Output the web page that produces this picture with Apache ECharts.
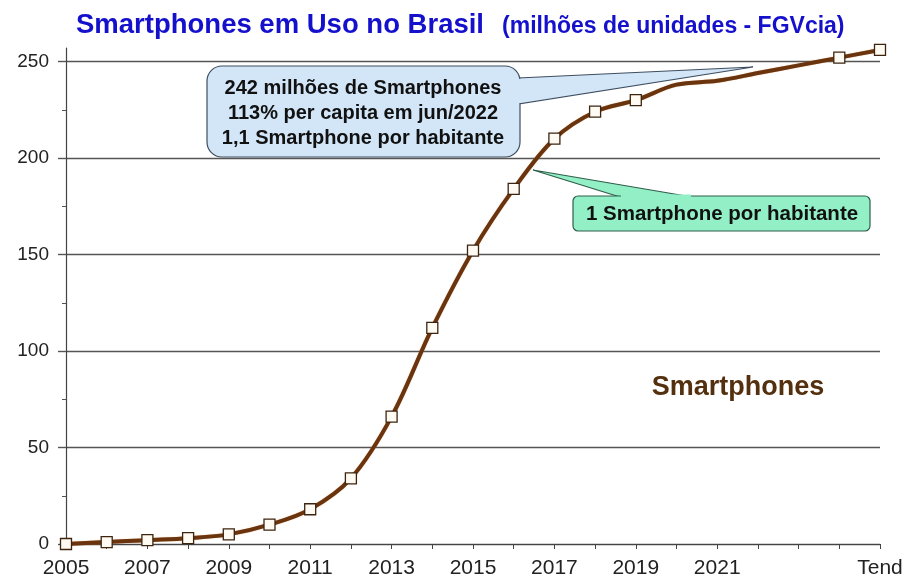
<!DOCTYPE html>
<html><head><meta charset="utf-8">
<script src="https://cdn.jsdelivr.net/npm/echarts@6/dist/echarts.min.js"></script>
<style>html,body{margin:0;padding:0;background:#fff}#c{width:906px;height:583px}</style>
</head><body><div id="c"></div>
<script>
const categories = ['2005','2006','2007','2008','2009','2010','2011','2012','2013','2014','2015','2016','2017','2018','2019','2020','2021','2022','2023','2024','Tend'];
const smartphones = [0, 1, 2, 3, 5, 10, 18, 34, 66, 112, 152, 184, 210, 224, 230, 238, 240, 244, 248, 252, 256];
const yearsWithoutMarker = ['2020','2021','2022','2023'];
const shownXLabels = ['2005','2007','2009','2011','2013','2015','2017','2019','2021','Tend'];
const yTicks = [0, 50, 100, 150, 200, 250];
const yMinorTicks = [25, 75, 125, 175, 225];
const titleMain = 'Smartphones em Uso no Brasil';
const titleSub = '(milhões de unidades - FGVcia)';
const noteBlue = ['242 milhões de Smartphones', '113% per capita em jun/2022', '1,1 Smartphone por habitante'];
const noteGreen = '1 Smartphone por habitante';
const seriesName = 'Smartphones';

const FONT = '"Liberation Sans", Arial, sans-serif';
const chart = echarts.init(document.getElementById('c'), null, {renderer: 'canvas'});
const seriesData = smartphones.map((v, i) => yearsWithoutMarker.includes(categories[i]) ? {value: v, symbol: 'none'} : v);

chart.setOption({
  animation: false,
  backgroundColor: '#fff',
  title: {
    left: 71, top: 6,
    text: '{a|' + titleMain + '}{b|' + titleSub + '}',
    textStyle: {
      rich: {
        a: {fontFamily: FONT, fontWeight: 'bold', fontSize: 27.5, color: '#1410cc'},
        b: {fontFamily: FONT, fontWeight: 'bold', fontSize: 23, color: '#1410cc', padding: [3, 0, 0, 18]}
      }
    }
  },
  grid: {left: 66, right: 26, top: 48, bottom: 39, containLabel: false},
  xAxis: {
    type: 'category', data: categories, boundaryGap: false,
    axisLine: {lineStyle: {color: '#444', width: 1.2}},
    axisTick: {show: true, interval: 0, length: 5, lineStyle: {color: '#444'}},
    axisLabel: {
      interval: (i, v) => shownXLabels.includes(v),
      fontFamily: FONT, fontSize: 21, color: '#222', margin: 14
    },
    splitLine: {show: false}
  },
  yAxis: [{
    type: 'value', min: 0, max: 257,
    axisLine: {show: true, lineStyle: {color: '#444', width: 1.2}},
    axisTick: {show: true, length: 8, customValues: yTicks, lineStyle: {color: '#555', width: 1.4}},
    axisLabel: {customValues: yTicks, fontFamily: FONT, fontSize: 19, color: '#222', margin: 17},
    splitLine: {show: true, lineStyle: {color: '#555', width: 1.4}}
  }, {
    type: 'value', min: 0, max: 257, position: 'left',
    axisLine: {show: false},
    axisTick: {show: true, length: 4, customValues: yMinorTicks, lineStyle: {color: '#555'}},
    axisLabel: {show: false},
    splitLine: {show: false}
  }],
  series: [{
    type: 'line', name: seriesName, data: seriesData, smooth: 0.35, yAxisIndex: 0,
    lineStyle: {color: '#6a340e', width: 4, shadowColor: 'rgba(200,110,30,0.6)', shadowBlur: 1},
    symbol: 'rect', symbolSize: 11,
    itemStyle: {color: '#fffaf2', borderColor: '#3d2410', borderWidth: 1.3},
    z: 5
  }],
  graphic: [
    {type: 'polygon', z: 10, shape: {points: [[518, 78], [753, 67], [518, 104]]},
      style: {fill: '#d3e6f8', stroke: '#3e4e5e', lineWidth: 1.2}},
    {type: 'rect', z: 11, shape: {x: 207, y: 66, width: 313, height: 91, r: 15},
      style: {fill: '#d3e6f8', stroke: '#3e4e5e', lineWidth: 1.2}},
    {type: 'rect', z: 12, shape: {x: 518.5, y: 79, width: 3, height: 24}, style: {fill: '#d3e6f8'}},
    {type: 'text', z: 13, x: 363, y: 113,
      style: {text: noteBlue.join('\n'), font: 'bold 20px ' + FONT, fill: '#111', align: 'center', verticalAlign: 'middle', lineHeight: 25}},
    {type: 'polygon', z: 10, shape: {points: [[620, 197], [533, 170], [692, 197]]},
      style: {fill: '#92efc6', stroke: '#2f5e4a', lineWidth: 1.2}},
    {type: 'rect', z: 11, shape: {x: 573, y: 196, width: 297, height: 35, r: 5},
      style: {fill: '#92efc6', stroke: '#2f5e4a', lineWidth: 1.2}},
    {type: 'rect', z: 12, shape: {x: 621, y: 194.5, width: 70, height: 3}, style: {fill: '#92efc6'}},
    {type: 'text', z: 13, x: 722, y: 214,
      style: {text: noteGreen, font: 'bold 20.5px ' + FONT, fill: '#111', align: 'center', verticalAlign: 'middle'}},
    {type: 'text', z: 13, x: 738, y: 388,
      style: {text: seriesName, font: 'bold 27px ' + FONT, fill: '#55300f', align: 'center', verticalAlign: 'middle'}}
  ]
});
</script></body></html>
